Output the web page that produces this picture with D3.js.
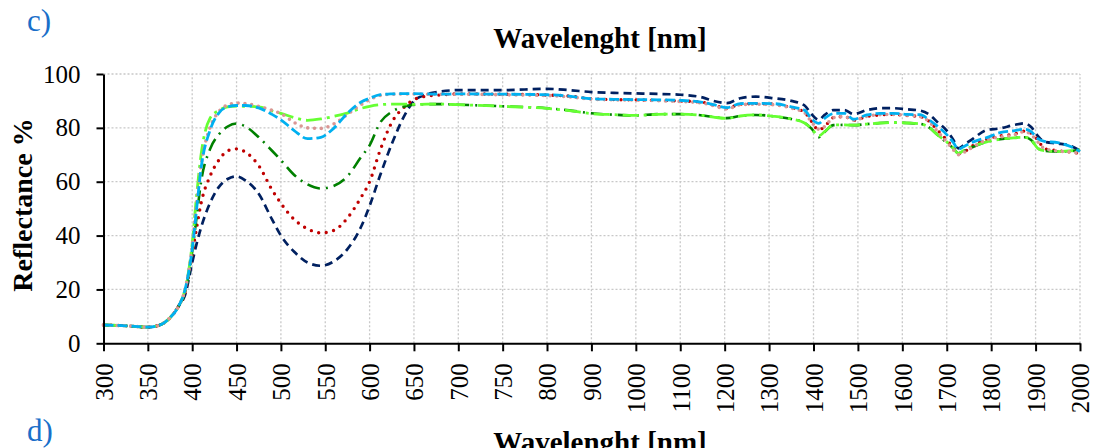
<!DOCTYPE html>
<html>
<head>
<meta charset="utf-8">
<script src="https://cdn.jsdelivr.net/npm/d3@7"></script>
<style>
  html, body { margin: 0; padding: 0; background: #fff; overflow: hidden; }
  svg text { font-family: "Liberation Serif", "Times New Roman", serif; }
</style>
</head>
<body>
<svg id="canvas" width="1093" height="448"></svg>
<script>
// wavelengths (nm) at which the curves were read
let wavelengths = [300, 325, 350, 365, 375, 385, 392, 400, 405, 410, 420, 430, 440, 450, 460,
  475, 490, 500, 515, 530, 545, 560, 575, 590, 600, 612, 625, 640, 650, 665, 680, 700,
  750, 800, 850, 900, 950, 1000, 1050, 1100, 1150, 1175, 1205, 1235, 1270, 1310, 1350, 1380,
  1395, 1412, 1425, 1445, 1470, 1490, 1520, 1550, 1580, 1610, 1640, 1660, 1680,
  1700, 1715, 1726, 1740, 1760, 1790, 1820, 1850, 1875, 1890, 1905, 1920, 1950, 1980, 2000];

let xTicks = [300, 350, 400, 450, 500, 550, 600, 650, 700, 750, 800,
  900, 1000, 1100, 1200, 1300, 1400, 1500, 1600, 1700, 1800, 1900, 2000];
let yTicks = [0, 20, 40, 60, 80, 100];

let navy = [6.8, 6.5, 6.0, 7.0, 9.5, 14, 18,
  30, 37, 43, 52, 58, 61, 62, 60.5,
  55.5, 46, 40, 34, 30, 28.8, 30.5, 35, 43, 51,
  62.5, 74, 85, 90, 92.5, 93.5, 94,
  94, 94.5, 94, 93.3, 93, 92.8, 92.6, 92.3,
  91.3, 90, 89.2, 91, 91.6, 91, 90, 88.3,
  85.2, 83, 84.8, 86.6, 86.6, 85.1,
  86.6, 87.3, 87.3, 86.9, 86.4, 85, 82,
  79, 75.5, 72.4, 73.8, 76.1,
  79.2, 79.8, 81, 81.7, 80.3, 77, 74.8, 74.2, 73.2, 71.5];

let red = [6.8, 6.5, 6.0, 7.0, 9.5, 14, 19,
  33, 43, 52, 62, 68, 71.5, 72.2, 71,
  66, 57, 52, 46, 42.5, 41, 42, 46.5, 54, 60,
  71.8, 82, 88, 90.5, 91.8, 92.2, 92.6,
  92.5, 92.2, 91.8, 90.8, 90.5, 90.4, 90.2, 90,
  89.5, 88.5, 87.3, 88.8, 89, 88.8, 87.5, 85.8,
  82.5, 79.2, 80.5, 83.8, 84.2, 82.8,
  84.2, 84.8, 85, 84.6, 84.2, 82.5, 79,
  75.5, 72.5, 70.5, 71.2, 73.5,
  75.8, 77, 77.6, 78.8, 78, 75.5, 72.3, 71.5, 71, 70.5];

let darkGreen = [6.8, 6.5, 6.0, 7.0, 9.5, 14, 19,
  34, 47, 60, 72, 77.5, 80.5, 81.6, 80.5,
  76.5, 71.5, 68, 62.5, 59, 57.5, 58.5, 62, 69, 73.5,
  82, 86, 88, 88.6, 88.8, 88.8, 88.6,
  88, 87.3, 86.5, 85.4, 84.9, 84.6, 85.1, 85.1,
  84.6, 84, 83.6, 84.4, 84.8, 84.3, 83.3, 81.8,
  79.8, 76.5, 78.5, 81, 81.1, 81,
  81.4, 81.8, 82, 81.8, 81.5, 80.2, 77.3,
  74.5, 72.4, 70.5, 71.5, 73,
  74.8, 75.8, 76.3, 76.5, 75.5, 72.4, 71.5, 71.2, 71.4, 71.8];

let lime = [6.8, 6.5, 6.0, 7.0, 9.5, 14, 20,
  37, 55, 70, 83.5, 86.5, 87.8, 88.1, 88,
  87.8, 86.3, 85.4, 83.8, 82.8, 83.3, 84.3, 85.5, 87.2, 88,
  88.6, 88.8, 88.8, 88.7, 88.8, 88.8, 88.6,
  88, 87.2, 86.4, 85.3, 84.9, 84.6, 85, 85.1,
  84.6, 84, 83.5, 84.4, 84.8, 84.3, 83.3, 81.8,
  79.8, 77, 78.6, 81.1, 81.1, 81,
  81.4, 81.8, 82, 81.8, 81.5, 80.2, 77.3,
  74.8, 72.4, 70.5, 71.8, 73.2,
  74.8, 75.8, 76.3, 76.5, 75.5, 72.4, 71.5, 71.2, 71.5, 71.8];

let pink = [6.8, 6.5, 6.0, 7.0, 9.5, 14, 20,
  36, 52, 66, 80, 86, 88.5, 89.2, 89,
  88, 86.5, 85.3, 82, 80, 79.8, 81.5, 85, 88.5, 90.5,
  92, 92.5, 92.6, 92.6, 92.5, 92.5, 92.5,
  92.3, 92, 91.5, 90.7, 90.4, 90.3, 90.1, 89.8,
  89.2, 88.2, 87, 88.6, 88.8, 88.6, 87.3, 85.6,
  82.3, 79.5, 80.5, 83.8, 84.2, 82.8,
  84.3, 84.9, 85, 84.7, 84.2, 82.3, 78.5,
  74.8, 71.8, 70, 71, 73,
  75.6, 76.6, 77.3, 78.6, 77.5, 74.8, 72.3, 71.4, 71, 70.6];

let lightBlue = [6.8, 6.5, 6.0, 7.0, 9.5, 14, 20,
  35, 50, 65, 79, 85.5, 87.8, 88.3, 88.3,
  87.4, 85, 83, 79, 76, 76.5, 80, 85.4, 89.5, 91,
  92.3, 92.6, 92.7, 92.7, 92.6, 92.5, 92.6,
  92.5, 92.3, 91.8, 90.8, 90.6, 90.5, 90.4, 90.2,
  89.5, 88.6, 87.5, 89, 89.1, 89, 87.8, 86.5,
  83.5, 81.7, 83.5, 85.3, 85.4, 83.2,
  84.8, 85.4, 85.4, 85, 84.9, 83, 80.5,
  77.5, 74.5, 72.1, 73.2, 74.8,
  76.4, 78.2, 78.9, 79.5, 78.6, 76, 75, 74.5, 73, 71.2];

let series = [
  { name: 'navy', values: navy, color: '#002060', width: 2.7, dash: '8,5', cap: 'butt' },
  { name: 'red', values: red, color: '#c00000', width: 3.4, dash: '0,7.6', cap: 'round' },
  { name: 'darkGreen', values: darkGreen, color: '#008000', width: 2.6, dash: '13,6,2,6', cap: 'butt' },
  { name: 'lime', values: lime, color: '#66ff33', width: 2.8, dash: '16,5,3,5', cap: 'butt' },
  { name: 'pink', values: pink, color: '#da9694', width: 3.6, dash: '0,6.8', cap: 'round' },
  { name: 'lightBlue', values: lightBlue, color: '#00b0f0', width: 2.8, dash: '10,4', cap: 'butt' }
];

let svg = d3.select('#canvas');

// category-like axis: 50 nm steps up to 800, 100 nm steps after
let x = d3.scaleLinear().domain([300, 800, 2000]).range([103.5, 547, 1080]);
let y = d3.scaleLinear().domain([0, 100]).range([343.3, 74]);

// grid
let grid = svg.append('g').attr('class', 'grid');
grid.selectAll('.vgrid')
  .data(xTicks.slice(1))
  .enter()
  .append('line')
  .attr('x1', d => x(d)).attr('x2', d => x(d))
  .attr('y1', y(0)).attr('y2', y(100))
  .attr('stroke', '#c8c8c8').attr('stroke-width', 1.3).attr('stroke-dasharray', '2,2');
grid.selectAll('.hgrid')
  .data(yTicks.slice(1))
  .enter()
  .append('line')
  .attr('x1', x(300)).attr('x2', x(2000))
  .attr('y1', d => y(d)).attr('y2', d => y(d))
  .attr('stroke', '#c8c8c8').attr('stroke-width', 1.3).attr('stroke-dasharray', '2,2');

// curves
let line = d3.line()
  .x(d => x(d[0]))
  .y(d => y(d[1]))
  .curve(d3.curveMonotoneX);

svg.append('g')
  .selectAll('path')
  .data(series)
  .enter()
  .append('path')
  .attr('fill', 'none')
  .attr('stroke', d => d.color)
  .attr('stroke-width', d => d.width)
  .attr('stroke-dasharray', d => d.dash)
  .attr('stroke-linecap', d => d.cap)
  .attr('d', d => line(wavelengths.map((w, i) => [w, d.values[i]]).filter(p => p[1] != null)));

// axes
let xAxis = svg.append('g')
  .attr('transform', 'translate(0,' + y(0) + ')')
  .call(d3.axisBottom(x).tickValues(xTicks).tickFormat(d3.format('d')).tickSize(8).tickSizeOuter(0));
xAxis.select('.domain').attr('stroke', '#000').attr('stroke-width', 2);
xAxis.selectAll('.tick line').attr('stroke', '#000').attr('stroke-width', 2);
xAxis.selectAll('.tick text')
  .attr('transform', 'rotate(-90)')
  .attr('x', -20)
  .attr('y', 0)
  .attr('dy', '0.35em')
  .style('text-anchor', 'end')
  .style('font-size', '25px')
  .attr('fill', '#000');

let yAxis = svg.append('g')
  .attr('transform', 'translate(' + x(300) + ',0)')
  .call(d3.axisLeft(y).tickValues(yTicks).tickSize(7).tickPadding(16).tickSizeOuter(0));
yAxis.select('.domain').attr('stroke', '#000').attr('stroke-width', 2);
yAxis.selectAll('.tick line').attr('stroke', '#000').attr('stroke-width', 2);
yAxis.selectAll('.tick text')
  .style('font-size', '25px')
  .attr('fill', '#000');

// titles
svg.append('text')
  .attr('x', 600).attr('y', 48)
  .attr('text-anchor', 'middle')
  .style('font-size', '29px').style('font-weight', 'bold')
  .text('Wavelenght [nm]');

svg.append('text')
  .attr('transform', 'translate(32,205) rotate(-90)')
  .attr('text-anchor', 'middle')
  .style('font-size', '28px').style('font-weight', 'bold')
  .text('Reflectance %');

svg.append('text')
  .attr('x', 27).attr('y', 31)
  .style('font-size', '31px').attr('fill', '#1a6fc9')
  .text('c)');

svg.append('text')
  .attr('x', 27).attr('y', 441)
  .style('font-size', '31px').attr('fill', '#1a6fc9')
  .text('d)');

// start of the next panel's title, cut by the lower edge as in the source
svg.append('text')
  .attr('x', 600).attr('y', 452)
  .attr('text-anchor', 'middle')
  .style('font-size', '29px').style('font-weight', 'bold')
  .text('Wavelenght [nm]');
</script>
</body>
</html>
